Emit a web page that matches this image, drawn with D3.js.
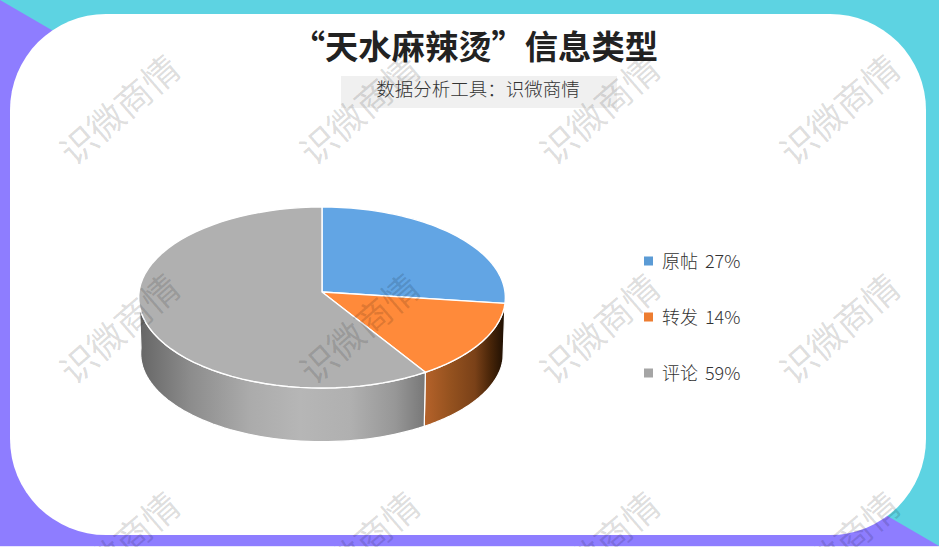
<!DOCTYPE html>
<html><head><meta charset="utf-8">
<script src="https://cdn.jsdelivr.net/npm/d3@7/dist/d3.min.js"></script>
<style>html,body{margin:0;padding:0;background:#fff;overflow:hidden}svg{display:block}
text{font-family:"Noto Sans CJK SC","Noto Sans",sans-serif}</style></head><body>
<svg id="c" width="939" height="547"></svg>
<script>
const categories = ["原帖","转发","评论"];
const values = [27,14,59];
const topColors = ["#62a5e4","#ff8a3a","#b0b0b0"];
const legendColors = ["#5b9bd5","#ed7d31","#a5a5a5"];
const titleText = "“天水麻辣烫”信息类型";
const subtitleText = "数据分析工具：识微商情";
const watermarkText = "识微商情";
const watermarkXs = [118,358,598,838];
const watermarkYs = [108,327,545];

const svg = d3.select("#c");
const W = 939, H = 547;
// background
svg.append("rect").attr("width",W).attr("height",H).attr("fill","#5dd3e2");
svg.append("path").attr("d",d3.line()([[0,0],[W,546],[0,546]])+"Z").attr("fill","#8e7dff");
svg.append("rect").attr("y",546).attr("width",W).attr("height",1).attr("fill","#e8e6ff");
svg.append("rect").attr("x",10).attr("y",14).attr("width",916).attr("height",521).attr("rx",96).attr("ry",96).attr("fill","#fff");

// title block
svg.append("text").attr("x",658).attr("y",59).attr("text-anchor","end")
  .attr("font-size",33.3).attr("font-weight",700).attr("fill","#222").text(titleText);
svg.append("rect").attr("x",341).attr("y",76).attr("width",276).attr("height",32).attr("fill","#f0f0f0");
svg.append("text").attr("x",478).attr("y",96).attr("text-anchor","middle")
  .attr("font-size",18.5).attr("font-weight",300).attr("fill","#333").text(subtitleText);

// 3D pie
const defs = svg.append("defs");
function grad(id, stops){
  const g = defs.append("linearGradient").attr("id",id).attr("gradientUnits","userSpaceOnUse")
    .attr("x1",140).attr("x2",505).attr("y1",0).attr("y2",0);
  stops.forEach(s=>g.append("stop").attr("offset",(s[0]-140)/365).attr("stop-color",s[1]));
}
grad("side0",[[495,"#3a5a80"],[505,"#16202c"]]);
grad("side1",[[425,"#b5622a"],[450,"#95521f"],[475,"#7a4118"],[490,"#4a2609"],[505,"#1c0e02"]]);
grad("side2",[[140,"#666666"],[190,"#8c8c8c"],[250,"#ababab"],[300,"#b6b6b6"],[350,"#b0b0b0"],[395,"#979797"],[425,"#787878"]]);

const k = 0.0608;
const topFace = {cx:322, cy:292, b:183, a:90.2};
const botFace = {cx:322, cy:348, b:181, a:88};
const sx = d3.scaleLinear().domain([-1,1]);
function project(p, ang){
  const u = Math.sin(ang), v = -Math.cos(ang), d = 1-k*v;
  sx.range([p.cx-p.b,p.cx+p.b]);
  return [sx(u/d), p.cy+p.a*v/d];
}
function samples(a0,a1){ return d3.range(0,61).map(i=>a0+(a1-a0)*i/60); }
const line = d3.line();
const arcs = d3.pie().sort(null).value(d=>d)(values);

// sides, outer ends first
const front0 = Math.PI/2, front1 = Math.PI*1.5;
arcs.forEach((d,i)=>{
  const a0 = Math.max(d.startAngle,front0), a1 = Math.min(d.endAngle,front1);
  if(a1<=a0) return;
  const s = samples(a0,a1);
  const pts = s.map(a=>project(topFace,a)).concat(s.slice().reverse().map(a=>project(botFace,a)));
  svg.append("path").attr("d",line(pts)+"Z").attr("fill",`url(#side${i})`)
    .attr("stroke","#fff").attr("stroke-width",1.2).attr("stroke-linejoin","round");
});
// top faces
arcs.forEach((d,i)=>{
  const pts = [[topFace.cx,topFace.cy]].concat(samples(d.startAngle,d.endAngle).map(a=>project(topFace,a)));
  svg.append("path").attr("d",line(pts)+"Z").attr("fill",topColors[i])
    .attr("stroke","#fff").attr("stroke-width",1.4).attr("stroke-linejoin","round");
});

// legend
const ly = d3.scalePoint().domain(categories).range([261,373]);
categories.forEach((c,i)=>{
  svg.append("rect").attr("x",644).attr("y",ly(c)-4.5).attr("width",9).attr("height",9).attr("fill",legendColors[i]);
  svg.append("text").attr("x",662).attr("y",ly(c)+6.5).attr("font-size",18).attr("font-weight",300)
    .attr("word-spacing",3).attr("fill","#333").text(`${c} ${values[i]}%`);
});

// watermarks
watermarkYs.forEach(y=>watermarkXs.forEach(x=>{
  svg.append("text").attr("transform",`translate(${x},${y}) rotate(-41)`)
    .attr("text-anchor","middle").attr("dominant-baseline","central")
    .attr("font-size",36).attr("font-weight",400).attr("fill","rgba(0,0,0,0.14)").text(watermarkText);
}));
</script></body></html>
